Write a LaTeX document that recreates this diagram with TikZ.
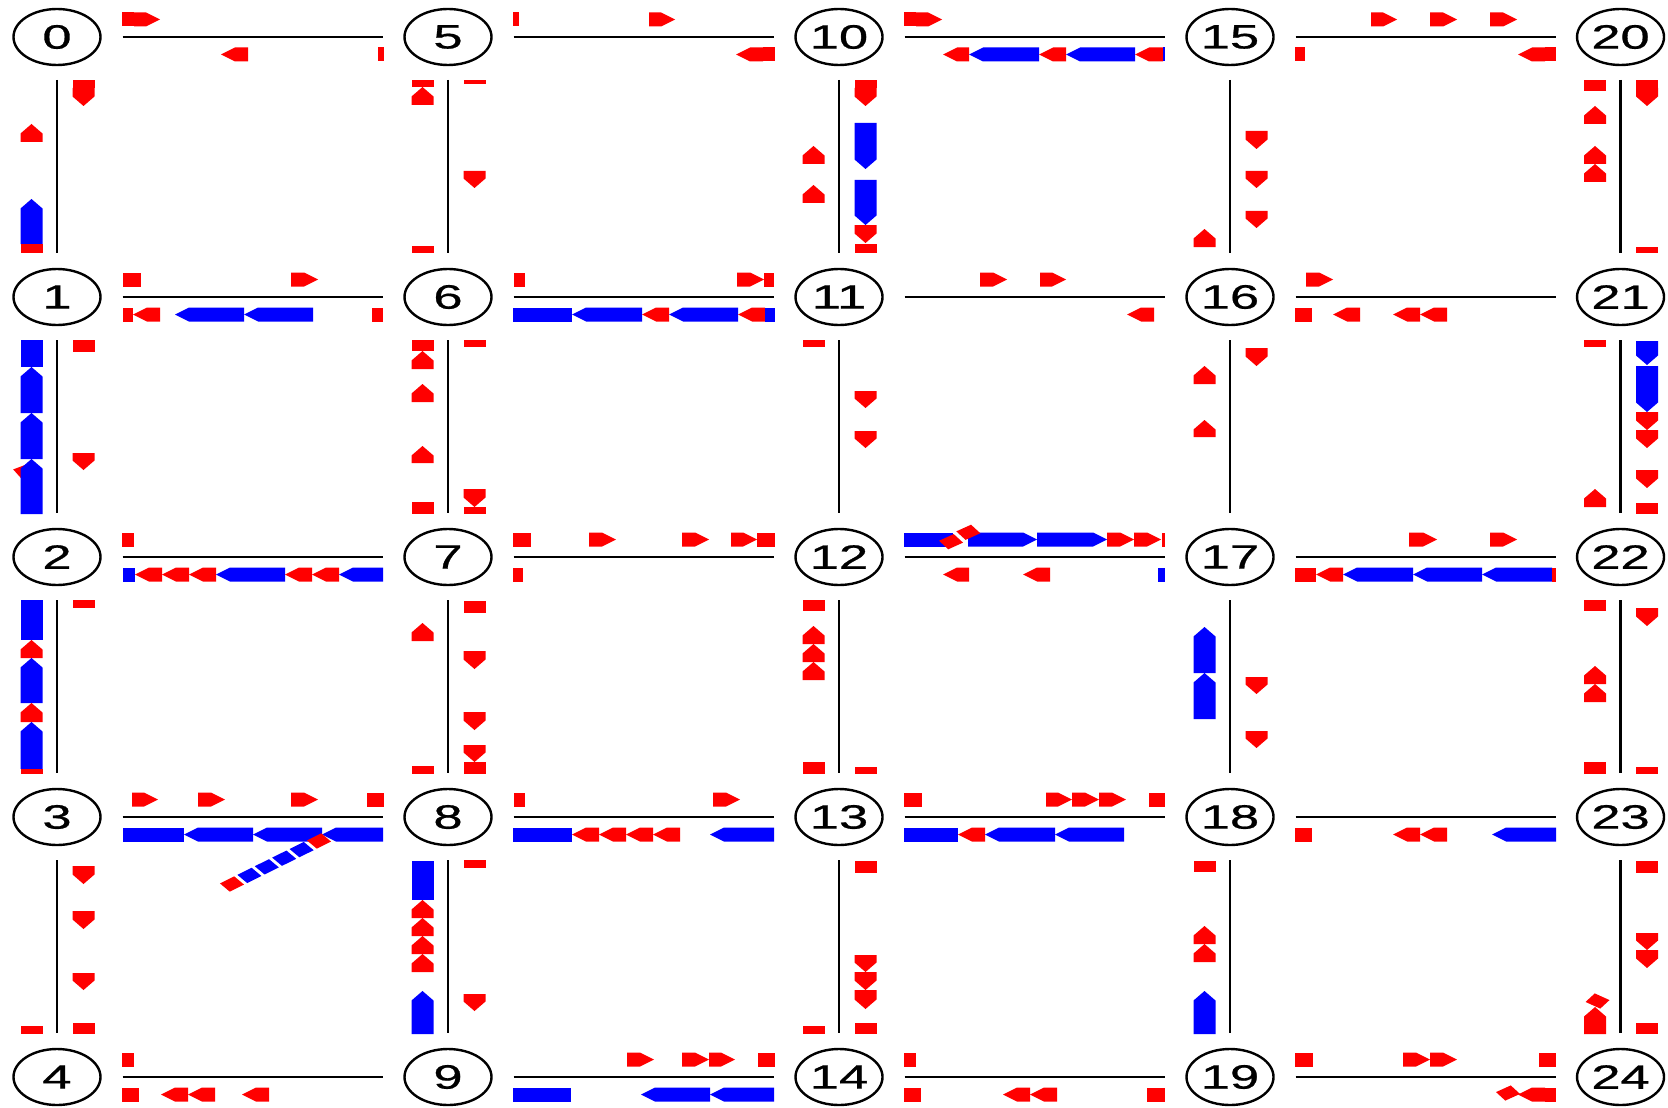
\documentclass[tikz,border=0pt]{standalone}
\usepackage{fontspec}
\setmainfont{Liberation Sans}
\newfontfamily\qnumfont[FakeBold=0.6]{Liberation Sans}
\usetikzlibrary{shapes.geometric}
% lane markers (all coordinates in image pixels)
\newcommand\qEr[4]{\fill[#1] ({#3},{#2-24.5}) rectangle ({#4},{#2-10.5});}
\newcommand\qEc[4]{\fill[#1] ({#3},{#2-24.5}) -- ({#4-14},{#2-24.5}) -- ({#4},{#2-17.5}) -- ({#4-14},{#2-10.5}) -- ({#3},{#2-10.5}) -- cycle;}
\newcommand\qWr[4]{\fill[#1] ({#3},{#2+10.5}) rectangle ({#4},{#2+24.5});}
\newcommand\qWc[4]{\fill[#1] ({#3},{#2+17.5}) -- ({#3+14},{#2+10.5}) -- ({#4},{#2+10.5}) -- ({#4},{#2+24.5}) -- ({#3+14},{#2+24.5}) -- cycle;}
\newcommand\qNr[4]{\fill[#1] ({#2-36.5},{#3}) rectangle ({#2-14.5},{#4});}
\newcommand\qNc[4]{\fill[#1] ({#2-25.5},{#3}) -- ({#2-14.5},{#3+9.5}) -- ({#2-14.5},{#4}) -- ({#2-36.5},{#4}) -- ({#2-36.5},{#3+9.5}) -- cycle;}
\newcommand\qSr[4]{\fill[#1] ({#2+15.5},{#3}) rectangle ({#2+37.5},{#4});}
\newcommand\qSc[4]{\fill[#1] ({#2+15.5},{#3}) -- ({#2+37.5},{#3}) -- ({#2+37.5},{#4-9.5}) -- ({#2+26.5},{#4}) -- ({#2+15.5},{#4-9.5}) -- cycle;}
\newcommand\qRot[4]{\fill[#1,shift={(#2,#3)},xscale=1.55,rotate=#4] (-5.8,-5.2) rectangle (5.8,5.2);}
\newcommand\qnum[1]{\scalebox{1.55}[1]{\qnumfont\fontsize{16.9}{20}\selectfont #1}}
\begin{document}
\begin{tikzpicture}[x=0.5pt,y=-0.5pt,
  junc/.style={ellipse,draw=black,line width=1.2pt,minimum width=43.5pt,minimum height=28pt,inner sep=0pt,outer sep=0pt},
  hroad/.style={draw=black,line width=1.15pt,shorten <=11pt,shorten >=10.75pt},
  vroad/.style={draw=black,line width=1.15pt,shorten <=7.5pt,shorten >=8pt}]
\fill[white] (0,0) rectangle (1668,1107);
\useasboundingbox (0,0) rectangle (1668,1107);
% junctions
\foreach \c/\xx in {0/57,1/448,2/839,3/1230,4/1620.5}{
  \foreach \r/\yy in {0/37,1/297,2/557,3/817,4/1077}{
    \pgfmathtruncatemacro\k{5*\c+\r}
    \node[junc] (n\k) at (\xx,\yy) {\qnum{\k}};
  }
}
% roads
\foreach \c in {0,...,4}{
  \foreach \r in {0,...,3}{
    \pgfmathtruncatemacro\a{5*\c+\r}
    \pgfmathtruncatemacro\b{5*\c+\r+1}
    \draw[vroad] (n\a) -- (n\b);
  }
}
\foreach \c in {0,...,3}{
  \foreach \r in {0,...,4}{
    \pgfmathtruncatemacro\a{5*\c+\r}
    \pgfmathtruncatemacro\b{5*\c+\r+5}
    \draw[hroad] (n\a) -- (n\b);
  }
}
% ===== horizontal roads =====
% row 0
\qEr{red}{37}{122}{134} \qEc{red}{37}{134}{160} \qWc{red}{37}{221}{248} \qWr{red}{37}{378}{384}
\qEr{red}{37}{513}{519} \qEc{red}{37}{649}{675} \qWc{red}{37}{736}{763} \qWr{red}{37}{763}{775}
\qEr{red}{37}{904}{916} \qEc{red}{37}{916}{942} \qWc{red}{37}{943}{969} \qWc{blue}{37}{969}{1039} \qWc{red}{37}{1039}{1066} \qWc{blue}{37}{1066}{1135} \qWc{red}{37}{1135}{1163} \qWr{blue}{37}{1163}{1165}
\qEc{red}{37}{1371}{1397} \qEc{red}{37}{1430}{1457} \qEc{red}{37}{1490}{1517} \qWr{red}{37}{1295}{1305} \qWc{red}{37}{1518}{1545} \qWr{red}{37}{1545}{1556}
% row 1
\qEr{red}{297}{123}{141} \qEc{red}{297}{291}{318} \qWr{red}{297}{123}{133} \qWc{red}{297}{133}{160} \qWc{blue}{297}{175}{244} \qWc{blue}{297}{244}{313} \qWr{red}{297}{372}{383}
\qEr{red}{297}{514}{525} \qEc{red}{297}{737}{764} \qEr{red}{297}{764}{774} \qWr{blue}{297}{513}{572} \qWc{blue}{297}{572}{642} \qWc{red}{297}{642}{669} \qWc{blue}{297}{669}{738} \qWc{red}{297}{738}{765} \qWr{blue}{297}{765}{775}
\qEc{red}{297}{980}{1007} \qEc{red}{297}{1040}{1066} \qWc{red}{297}{1127}{1154}
\qEc{red}{297}{1306}{1333} \qWr{red}{297}{1295}{1312} \qWc{red}{297}{1333}{1360} \qWc{red}{297}{1393}{1420} \qWc{red}{297}{1420}{1447}
% row 2
\qEr{red}{557}{122}{134} \qWr{blue}{557}{123}{135} \qWc{red}{557}{135}{162} \qWc{red}{557}{162}{189} \qWc{red}{557}{189}{216} \qWc{blue}{557}{216}{285} \qWc{red}{557}{285}{312} \qWc{red}{557}{312}{339} \qWc{blue}{557}{339}{383}
\qEr{red}{557}{513}{531} \qEc{red}{557}{589}{616} \qEc{red}{557}{682}{709} \qEc{red}{557}{731}{757} \qEr{red}{557}{757}{775} \qWr{red}{557}{513}{523}
\qEr{blue}{557}{904}{953} \qEc{blue}{557}{968}{1037} \qEc{blue}{557}{1037}{1107} \qEc{red}{557}{1107}{1134} \qEc{red}{557}{1134}{1161} \qEr{red}{557}{1162}{1165}
\qRot{red}{951}{541.7}{35} \qRot{red}{968.3}{532.3}{35}
\qWc{red}{557}{943}{969} \qWc{red}{557}{1023}{1050} \qWr{blue}{557}{1158}{1165}
\qEc{red}{557}{1409}{1437} \qEc{red}{557}{1490}{1517} \qWr{red}{557}{1295}{1316} \qWc{red}{557}{1316}{1343} \qWc{blue}{557}{1343}{1413} \qWc{blue}{557}{1413}{1482} \qWc{blue}{557}{1482}{1552} \qWr{red}{557}{1552}{1556}
% row 3
\qEc{red}{817}{132}{158} \qEc{red}{817}{198}{225} \qEc{red}{817}{291}{318} \qEr{red}{817}{367}{384}
\qWr{blue}{817}{123}{184} \qWc{blue}{817}{184}{253} \qWc{blue}{817}{253}{322} \qWc{blue}{817}{322}{383}
\qRot{red}{232}{884}{37.5} \qRot{blue}{249.4}{875.4}{37.5} \qRot{blue}{266.8}{866.8}{37.5} \qRot{blue}{284.2}{858.2}{37.5} \qRot{blue}{301.6}{849.6}{37.5} \qRot{red}{319}{841}{37.5}
\qEr{red}{817}{514}{525} \qEc{red}{817}{713}{740} \qWr{blue}{817}{513}{572} \qWc{red}{817}{572}{599} \qWc{red}{817}{599}{626} \qWc{red}{817}{626}{653} \qWc{red}{817}{653}{680} \qWc{blue}{817}{710}{774}
\qEr{red}{817}{904}{922} \qEc{red}{817}{1046}{1072} \qEc{red}{817}{1072}{1099} \qEc{red}{817}{1099}{1126} \qEr{red}{817}{1149}{1165} \qWr{blue}{817}{904}{958} \qWc{red}{817}{958}{985} \qWc{blue}{817}{985}{1055} \qWc{blue}{817}{1055}{1124}
\qWr{red}{817}{1295}{1312} \qWc{red}{817}{1393}{1420} \qWc{red}{817}{1420}{1447} \qWc{blue}{817}{1492}{1556}
% row 4
\qEr{red}{1077}{122}{134} \qWr{red}{1077}{122}{139} \qWc{red}{1077}{161}{188} \qWc{red}{1077}{188}{215} \qWc{red}{1077}{242}{269}
\qEc{red}{1077}{627}{654} \qEc{red}{1077}{682}{709} \qEc{red}{1077}{709}{735} \qEr{red}{1077}{758}{775} \qWr{blue}{1077}{513}{571} \qWc{blue}{1077}{641}{710} \qWc{blue}{1077}{710}{774}
\qEr{red}{1077}{904}{916} \qWr{red}{1077}{904}{921} \qWc{red}{1077}{1003}{1030} \qWc{red}{1077}{1030}{1057} \qWr{red}{1077}{1147}{1165}
\qEr{red}{1077}{1295}{1313} \qEc{red}{1077}{1403}{1430} \qEc{red}{1077}{1430}{1457} \qEr{red}{1077}{1539}{1556}
\qRot{red}{1508}{1093}{35} \qWc{red}{1077}{1518}{1545} \qWr{red}{1077}{1545}{1556}
% ===== vertical roads =====
% column 0
\qNc{red}{57}{124}{142} \qNc{blue}{57}{199}{244} \qNr{red}{57}{244}{253} \qSr{red}{57}{80}{88} \qSc{red}{57}{88}{106}
\qRot{red}{25}{471}{30}
\qNr{blue}{57}{340}{367} \qNc{blue}{57}{367}{413} \qNc{blue}{57}{413}{459} \qNc{blue}{57}{459}{514} \qSr{red}{57}{340}{352} \qSc{red}{57}{453}{470}
\qNr{blue}{57}{600}{640} \qNc{red}{57}{640}{658} \qNc{blue}{57}{658}{703} \qNc{red}{57}{703}{722} \qNc{blue}{57}{722}{769} \qNr{red}{57}{769}{774} \qSr{red}{57}{600}{608}
\qNr{red}{57}{1026}{1034} \qSc{red}{57}{866}{884} \qSc{red}{57}{911}{929} \qSc{red}{57}{973}{990} \qSr{red}{57}{1023}{1034}
% column 1
\qNr{red}{448}{80}{87} \qNc{red}{448}{87}{105} \qNr{red}{448}{246}{253} \qSr{red}{448}{80}{84} \qSc{red}{448}{171}{188}
\qNr{red}{448}{340}{351} \qNc{red}{448}{351}{369} \qNc{red}{448}{384}{402} \qNc{red}{448}{446}{463} \qNr{red}{448}{502}{514} \qSr{red}{448}{340}{347} \qSc{red}{448}{489}{507} \qSr{red}{448}{507}{514}
\qNc{red}{448}{623}{641} \qNr{red}{448}{766}{774} \qSr{red}{448}{601}{613} \qSc{red}{448}{651}{669} \qSc{red}{448}{712}{730} \qSc{red}{448}{745}{762} \qSr{red}{448}{762}{774}
\qNr{blue}{448}{861}{900} \qNc{red}{448}{900}{918} \qNc{red}{448}{918}{936} \qNc{red}{448}{936}{954} \qNc{red}{448}{954}{972} \qNc{blue}{448}{991}{1034} \qSr{red}{448}{860}{868} \qSc{red}{448}{994}{1011}
% column 2
\qNc{red}{839}{146}{164} \qNc{red}{839}{185}{203} \qSr{red}{839}{80}{88} \qSc{red}{839}{88}{106} \qSc{blue}{839}{123}{169} \qSc{blue}{839}{180}{225} \qSc{red}{839}{225}{243} \qSr{red}{839}{244}{253}
\qNr{red}{839}{340}{347} \qSc{red}{839}{391}{408} \qSc{red}{839}{431}{448}
\qNr{red}{839}{600}{611} \qNc{red}{839}{626}{644} \qNc{red}{839}{644}{662} \qNc{red}{839}{662}{680} \qNr{red}{839}{762}{774} \qSr{red}{839}{767}{774}
\qNr{red}{839}{1026}{1034} \qSr{red}{839}{861}{873} \qSc{red}{839}{955}{972} \qSc{red}{839}{972}{990} \qSc{red}{839}{990}{1009} \qSr{red}{839}{1023}{1034}
% column 3
\qNc{red}{1230}{229}{247} \qSc{red}{1230}{131}{149} \qSc{red}{1230}{171}{188} \qSc{red}{1230}{211}{228}
\qNc{red}{1230}{366}{384} \qNc{red}{1230}{420}{437} \qSc{red}{1230}{348}{366}
\qNc{blue}{1230}{627}{673} \qNc{blue}{1230}{673}{719} \qSc{red}{1230}{677}{694} \qSc{red}{1230}{731}{748}
\qNr{red}{1230}{861}{872} \qNc{red}{1230}{926}{944} \qNc{red}{1230}{944}{962} \qNc{blue}{1230}{991}{1034}
% column 4
\qNr{red}{1620.5}{80}{91} \qNc{red}{1620.5}{106}{124} \qNc{red}{1620.5}{146}{164} \qNc{red}{1620.5}{164}{182} \qSr{red}{1620.5}{80}{88} \qSc{red}{1620.5}{88}{106} \qSr{red}{1620.5}{247}{253}
\qNr{red}{1620.5}{340}{347} \qNc{red}{1620.5}{489}{507} \qSc{blue}{1620.5}{341}{365} \qSc{blue}{1620.5}{366}{412} \qSc{red}{1620.5}{412}{430} \qSc{red}{1620.5}{430}{448} \qSc{red}{1620.5}{470}{488} \qSr{red}{1620.5}{503}{514}
\qNr{red}{1620.5}{600}{611} \qNc{red}{1620.5}{666}{684} \qNc{red}{1620.5}{684}{702} \qNr{red}{1620.5}{762}{774} \qSc{red}{1620.5}{608}{626} \qSr{red}{1620.5}{767}{774}
\qSr{red}{1620.5}{861}{873} \qSc{red}{1620.5}{933}{950} \qSc{red}{1620.5}{950}{968} \qSr{red}{1620.5}{1023}{1034} \qNc{red}{1620.5}{1007}{1034}
\qRot{red}{1597.5}{1001}{-35}
\end{tikzpicture}
\end{document}
